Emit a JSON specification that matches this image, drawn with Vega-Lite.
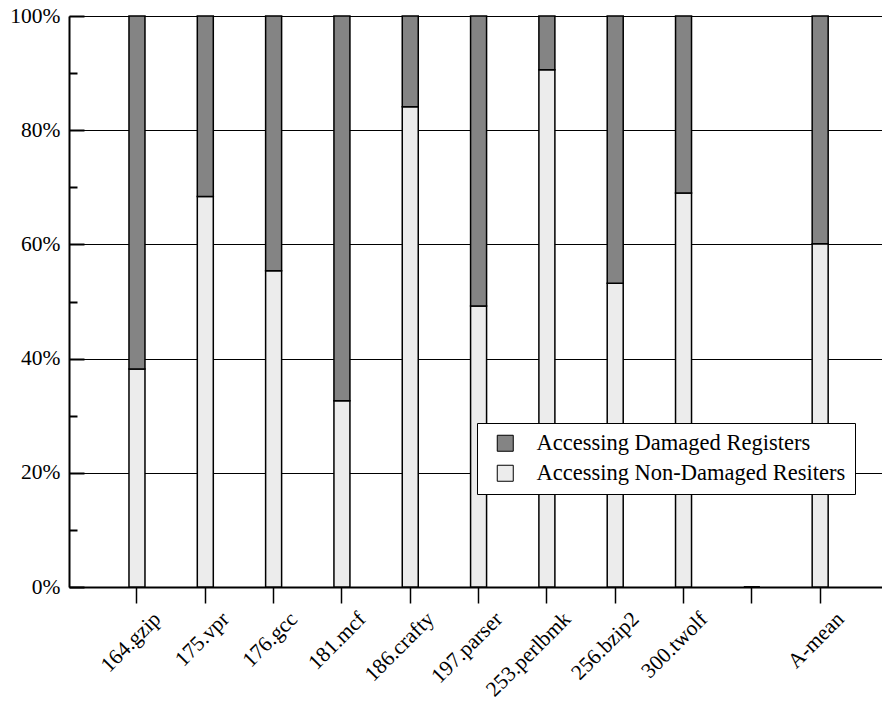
{
  "$schema": "https://vega.github.io/schema/vega-lite/v6.json",
  "width": 813,
  "height": 571,
  "autosize": {"type": "none"},
  "padding": {"left": 69, "top": 16, "right": 0, "bottom": 117},
  "background": "white",
  "config": {"view": {"stroke": null}, "font": "Times New Roman, Liberation Serif, DejaVu Serif, serif"},
  "data": {
    "values": [
      {"bench": "164.gzip", "type": "Accessing Non-Damaged Resiters", "value": 38.2},
      {"bench": "164.gzip", "type": "Accessing Damaged Registers", "value": 61.8},
      {"bench": "175.vpr", "type": "Accessing Non-Damaged Resiters", "value": 68.4},
      {"bench": "175.vpr", "type": "Accessing Damaged Registers", "value": 31.6},
      {"bench": "176.gcc", "type": "Accessing Non-Damaged Resiters", "value": 55.4},
      {"bench": "176.gcc", "type": "Accessing Damaged Registers", "value": 44.6},
      {"bench": "181.mcf", "type": "Accessing Non-Damaged Resiters", "value": 32.6},
      {"bench": "181.mcf", "type": "Accessing Damaged Registers", "value": 67.4},
      {"bench": "186.crafty", "type": "Accessing Non-Damaged Resiters", "value": 84.1},
      {"bench": "186.crafty", "type": "Accessing Damaged Registers", "value": 15.9},
      {"bench": "197.parser", "type": "Accessing Non-Damaged Resiters", "value": 49.2},
      {"bench": "197.parser", "type": "Accessing Damaged Registers", "value": 50.8},
      {"bench": "253.perlbmk", "type": "Accessing Non-Damaged Resiters", "value": 90.6},
      {"bench": "253.perlbmk", "type": "Accessing Damaged Registers", "value": 9.4},
      {"bench": "256.bzip2", "type": "Accessing Non-Damaged Resiters", "value": 53.2},
      {"bench": "256.bzip2", "type": "Accessing Damaged Registers", "value": 46.8},
      {"bench": "300.twolf", "type": "Accessing Non-Damaged Resiters", "value": 69.0},
      {"bench": "300.twolf", "type": "Accessing Damaged Registers", "value": 31.0},
      {"bench": " ", "type": "Accessing Non-Damaged Resiters", "value": 0},
      {"bench": " ", "type": "Accessing Damaged Registers", "value": 0},
      {"bench": "A-mean", "type": "Accessing Non-Damaged Resiters", "value": 60.1},
      {"bench": "A-mean", "type": "Accessing Damaged Registers", "value": 39.9}
    ]
  },
  "mark": {"type": "bar", "stroke": "black", "strokeWidth": 1.5, "width": 16},
  "encoding": {
    "x": {
      "field": "bench",
      "type": "nominal",
      "sort": null,
      "scale": {"paddingInner": 0, "paddingOuter": 0.45, "align": 0.55},
      "axis": {
        "title": null,
        "labelAngle": -45,
        "labelAlign": "right",
        "labelBaseline": "alphabetic",
        "labelFontSize": 21.5,
        "labelColor": "black",
        "tickSize": 16,
        "tickColor": "black",
        "tickWidth": 1.5,
        "domainColor": "black",
        "domainWidth": 2,
        "labelPadding": 17,
        "labelOffset": 25
      }
    },
    "y": {
      "field": "value",
      "type": "quantitative",
      "stack": "zero",
      "scale": {"domain": [0, 100], "nice": false},
      "axis": {
        "title": null,
        "values": [0, 10, 20, 30, 40, 50, 60, 70, 80, 90, 100],
        "labelExpr": "datum.value % 20 === 0 ? datum.value + '%' : ''",
        "labelFontSize": 21.5,
        "labelColor": "black",
        "tickSize": {"condition": {"test": "datum.value % 20 === 0", "value": -15}, "value": -8},
        "tickColor": "black",
        "tickWidth": 2,
        "labelPadding": 24,
        "domainColor": "black",
        "domainWidth": 2,
        "grid": true,
        "gridColor": "black",
        "gridWidth": 1,
        "gridOpacity": {"condition": {"test": "datum.value % 20 === 0", "value": 1}, "value": 0}
      }
    },
    "color": {
      "field": "type",
      "type": "nominal",
      "scale": {
        "domain": ["Accessing Damaged Registers", "Accessing Non-Damaged Resiters"],
        "range": ["#848484", "#ececec"]
      },
      "legend": {
        "title": null,
        "orient": "none",
        "legendX": 408,
        "legendY": 407,
        "fillColor": "white",
        "strokeColor": "black",
        "padding": 9,
        "symbolOffset": 8,
        "labelFontSize": 22.5,
        "labelColor": "black",
        "labelLimit": 500,
        "symbolType": "square",
        "symbolSize": 256,
        "symbolStrokeColor": "black",
        "symbolStrokeWidth": 1,
        "symbolOpacity": 1,
        "rowPadding": 7,
        "labelOffset": 20
      }
    },
    "order": {"field": "type", "sort": "descending"}
  }
}
